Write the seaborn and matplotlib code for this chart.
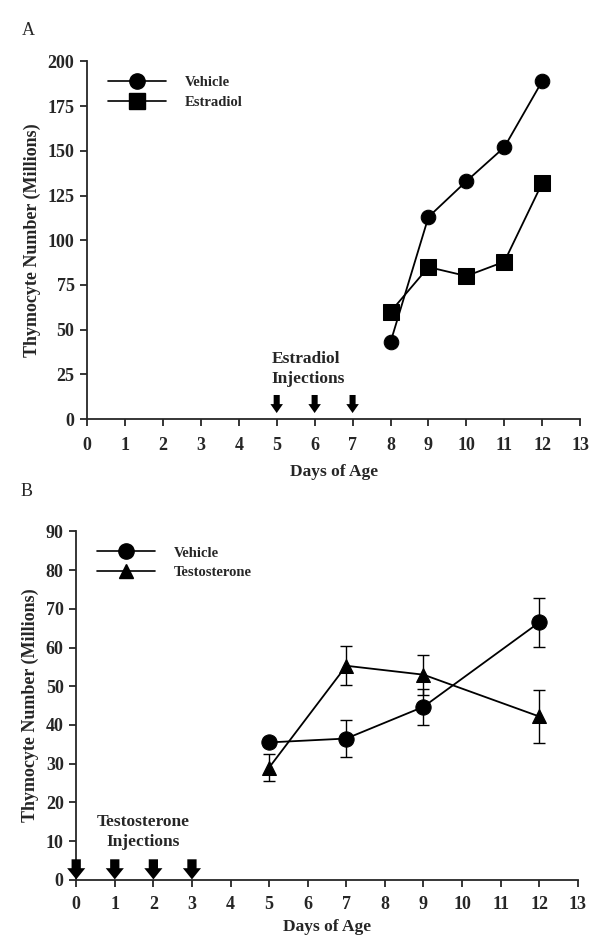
import numpy as np
import pandas as pd
import matplotlib
matplotlib.use("Agg")
import matplotlib.pyplot as plt
from matplotlib.lines import Line2D
import seaborn as sns

# -- Data ----------------------------------------------------------------------
a_days = [8, 9, 10, 11, 12]
a_vehicle = [43, 113, 133, 152, 189]
a_estradiol = [60, 85, 80, 88, 132]
a_inject_days = [5, 6, 7]

b_days = [5, 7, 9, 12]
b_vehicle = [35.5, 36.5, 44.7, 66.5]
b_vehicle_err = [0.8, 4.7, 4.7, 6.4]
b_testo = [29.0, 55.3, 53.0, 42.2]
b_testo_err = [3.5, 5.0, 5.2, 6.8]
b_inject_days = [0, 1, 2, 3]

x_ticks = list(range(0, 14))
a_yticks = [0, 25, 50, 75, 100, 125, 150, 175, 200]
b_yticks = [0, 10, 20, 30, 40, 50, 60, 70, 80, 90]

# -- Style ---------------------------------------------------------------------
sns.set_style("ticks")
plt.rcParams["font.family"] = ["Liberation Serif", "DejaVu Serif"]
plt.rcParams["font.weight"] = "bold"
plt.rcParams["axes.linewidth"] = 1.3
plt.rcParams["xtick.major.width"] = 1.3
plt.rcParams["ytick.major.width"] = 1.3
plt.rcParams["xtick.major.size"] = 5
plt.rcParams["ytick.major.size"] = 5

fig = plt.figure(figsize=(6, 9.44), dpi=100)
ax_a = fig.add_axes([0.145, 0.556, 0.822, 0.379])
ax_b = fig.add_axes([0.127, 0.068, 0.836, 0.369])


def style_axes(ax, yticks, xpad=4, xlabelpad=4):
    sns.despine(ax=ax)
    ax.set_xlim(0, 13)
    ax.set_ylim(0, yticks[-1])
    ax.set_xticks(x_ticks)
    ax.set_yticks(yticks)
    ax.tick_params(labelsize=13, pad=4)
    ax.tick_params(axis="x", pad=xpad)
    for lab in ax.get_xticklabels() + ax.get_yticklabels():
        lab.set_fontweight("bold")
    ax.set_xlabel("Days of Age", fontsize=12.5, fontweight="bold", labelpad=xlabelpad)
    ax.set_ylabel("Thymocyte Number (Millions)", fontsize=13, fontweight="bold", labelpad=5)


def draw_arrows(ax, days, y_top, y_tip, shaft, head_w, head_l):
    # injection markers: thick down arrows, sizes in data units
    for d in days:
        ax.arrow(d, y_top, 0, y_tip - y_top, width=shaft, head_width=head_w,
                 head_length=head_l, length_includes_head=True,
                 color="black", lw=0, clip_on=False, zorder=5)


# -- Panel A -------------------------------------------------------------------
df_a = pd.DataFrame({"day": a_days, "vehicle": a_vehicle, "estradiol": a_estradiol})
sns.lineplot(data=df_a, x="day", y="vehicle", ax=ax_a, color="black", lw=1.3,
             marker="o", markersize=10.5, markeredgecolor="black")
sns.lineplot(data=df_a, x="day", y="estradiol", ax=ax_a, color="black", lw=1.3,
             marker="s", markersize=11, markeredgecolor="black")
style_axes(ax_a, a_yticks, xpad=8, xlabelpad=7)
draw_arrows(ax_a, a_inject_days, 13.5, 3.4, 0.16, 0.33, 5.0)
ax_a.text(4.87, 28, "Estradiol\nInjections", fontsize=12.5, fontweight="bold",
          ha="left", va="center", linespacing=1.3)

handles_a = [
    Line2D([], [], color="black", lw=1.2, marker="o", markersize=11),
    Line2D([], [], color="black", lw=1.2, marker="s", markersize=11),
]
ax_a.legend(handles_a, ["Vehicle", "Estradiol"], loc="upper left",
            bbox_to_anchor=(0.015, 0.995), frameon=False, handlelength=4.0,
            numpoints=1, labelspacing=0.45, handletextpad=1.3,
            prop={"size": 10.5, "weight": "bold"})
fig.text(0.037, 0.963, "A", fontsize=13, fontweight="normal")

# -- Panel B -------------------------------------------------------------------
df_b = pd.DataFrame({"day": b_days, "vehicle": b_vehicle, "testo": b_testo})
ax_b.errorbar(b_days, b_vehicle, yerr=b_vehicle_err, fmt="none", ecolor="black",
              elinewidth=1.0, capsize=4, capthick=1.0)
ax_b.errorbar(b_days, b_testo, yerr=b_testo_err, fmt="none", ecolor="black",
              elinewidth=1.0, capsize=4, capthick=1.0)
sns.lineplot(data=df_b, x="day", y="vehicle", ax=ax_b, color="black", lw=1.3,
             marker="o", markersize=11, markeredgecolor="black")
sns.lineplot(data=df_b, x="day", y="testo", ax=ax_b, color="black", lw=1.3,
             marker="^", markersize=10, markeredgecolor="black")
style_axes(ax_b, b_yticks, xpad=7, xlabelpad=4)
draw_arrows(ax_b, b_inject_days, 5.3, 0.1, 0.24, 0.47, 2.9)
ax_b.text(1.74, 12.3, "Testosterone\nInjections", fontsize=12.5, fontweight="bold",
          ha="center", va="center", linespacing=1.3)

handles_b = [
    Line2D([], [], color="black", lw=1.2, marker="o", markersize=11),
    Line2D([], [], color="black", lw=1.2, marker="^", markersize=10),
]
ax_b.legend(handles_b, ["Vehicle", "Testosterone"], loc="upper left",
            bbox_to_anchor=(0.015, 0.995), frameon=False, handlelength=4.0,
            numpoints=1, labelspacing=0.45, handletextpad=1.3,
            prop={"size": 10.5, "weight": "bold"})
fig.text(0.035, 0.475, "B", fontsize=13, fontweight="normal")

fig.savefig("out.png", dpi=100)
